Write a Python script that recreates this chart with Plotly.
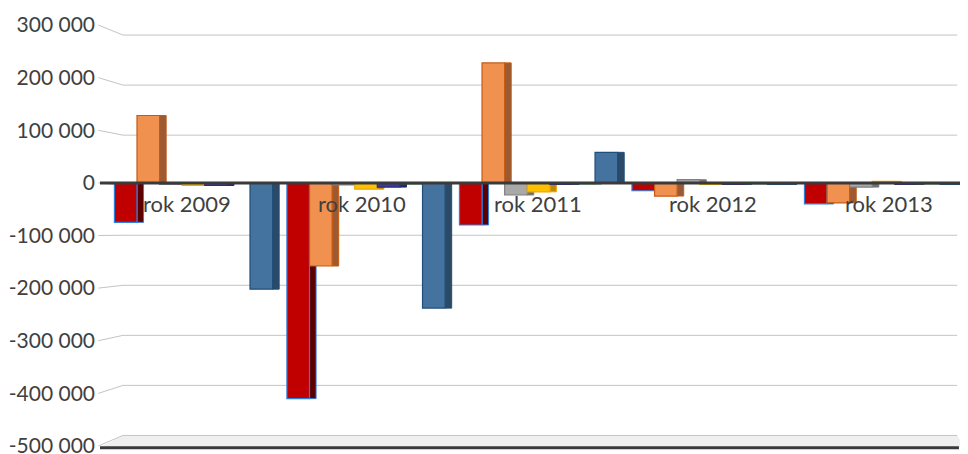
import plotly.graph_objects as go

FONT = "Lato"
TEXT = "#404040"

categories = ["rok 2009", "rok 2010", "rok 2011", "rok 2012", "rok 2013"]

# values, one list per series (order as drawn left->right in a group)
red = [-75000, -410000, -80000, -15000, -40000]
orange = [128000, -158000, 228000, -25000, -38000]
gray = [-3000, -4000, -23000, 6000, -8000]
yellow = [-5000, -12000, -17000, -3000, 3000]
navy = [-5000, -8000, -3000, -3000, -3000]
green = [-1000, -2000, -2000, -2000, -2000]
blue = [-202000, -238000, 58000, -3000, -3000]

series = [
    (red, "#c00000", "#5c0000", "#2f7fe0"),
    (orange, "#f0914f", "#9a5a34", "#c55a11"),
    (gray, "#a9a9a9", "#6e6e6e", "#808080"),
    (yellow, "#ffc000", "#c08a00", "#f0a800"),
    (navy, "#3b3b9e", "#25256a", "#2a2a80"),
    (green, "#2e8b57", "#1e5e3a", "#22704a"),
    (blue, "#44739f", "#2b4a68", "#1f4e79"),
]

yticks = [300000, 200000, 100000, 0, -100000, -200000, -300000, -400000, -500000]
YMIN, YMAX = -505700, 300000
BOTTOM = -500000

slot = 0.131
side_w = 0.038


def fmt(v):
    s = "{:,}".format(abs(v)).replace(",", " ")
    return "-" + s if v < 0 else s


def ypaper(v):
    return (v - YMIN) / (YMAX - YMIN)


fig = go.Figure()

# darker right-hand faces first, so the front faces cover them
for i, (vals, col, dark, line) in enumerate(series):
    off = -3.5 * slot + i * slot
    fig.add_trace(go.Bar(x=categories, y=vals, width=side_w, offset=off + slot,
                         marker=dict(color=dark, line=dict(color=line, width=1)),
                         hoverinfo="skip", showlegend=False))
for i, (vals, col, dark, line) in enumerate(series):
    off = -3.5 * slot + i * slot
    fig.add_trace(go.Bar(x=categories, y=vals, width=slot, offset=off,
                         marker=dict(color=col, line=dict(color=line, width=1.2)),
                         showlegend=False))

shapes = []
# floor
shapes.append(dict(type="path", xref="paper", yref="paper", layer="below",
                   path="M 0.0266,{b} L 0.991,{b} L 1.0,{f} L 0,{f} Z".format(
                       b=ypaper(0.951 * BOTTOM - 4400), f=ypaper(BOTTOM) - 0.003),
                   fillcolor="#efefef", line=dict(width=0)))
# back wall gridlines + slanted connectors to the tick labels
for v in yticks:
    back = 0.951 * v - 4400
    if v != 0:
        shapes.append(dict(type="line", xref="paper", yref="paper", layer="below",
                           x0=0.0266, x1=0.991, y0=ypaper(back), y1=ypaper(back),
                           line=dict(color="#c4c4c4", width=1)))
    shapes.append(dict(type="line", xref="paper", yref="paper", layer="below",
                       x0=-0.002, x1=0.0266, y0=ypaper(v), y1=ypaper(back),
                       line=dict(color="#c4c4c4", width=1)))
# zero line and front floor edge
shapes.append(dict(type="line", xref="paper", yref="paper", layer="above",
                   x0=0, x1=1, y0=ypaper(0), y1=ypaper(0),
                   line=dict(color="#3a3a3a", width=3)))
shapes.append(dict(type="line", xref="paper", yref="paper", layer="above",
                   x0=0, x1=0.993, y0=ypaper(BOTTOM) - 0.004, y1=ypaper(BOTTOM) - 0.004,
                   line=dict(color="#3a3a3a", width=3)))

annotations = []
for k, c in enumerate(categories):
    annotations.append(dict(x=k, y=0, xref="x", yref="y", text=c, showarrow=False,
                            xanchor="center", yanchor="top", xshift=-7 + k * 3, yshift=-5,
                            font=dict(family=FONT, size=22, color=TEXT)))

# the page body has an 8px margin, so the figure is 8px smaller than the window
fig.update_layout(
    width=960, height=446,
    margin=dict(l=92, r=3, t=17, b=5),
    paper_bgcolor="white", plot_bgcolor="white",
    barmode="overlay",
    showlegend=False,
    shapes=shapes,
    annotations=annotations,
    font=dict(family=FONT, color=TEXT),
    xaxis=dict(range=[-0.542, 4.472], showticklabels=False, showgrid=False,
               zeroline=False, showline=False, fixedrange=True, automargin=False),
    yaxis=dict(range=[YMIN, YMAX], tickvals=yticks, ticktext=[fmt(v) for v in yticks],
               showgrid=False, zeroline=False, showline=False, ticks="",
               tickfont=dict(family=FONT, size=21, color=TEXT), ticklabelstandoff=4,
               ticklabeloverflow="allow", automargin=False, fixedrange=True),
)

fig.write_html("out.html")
